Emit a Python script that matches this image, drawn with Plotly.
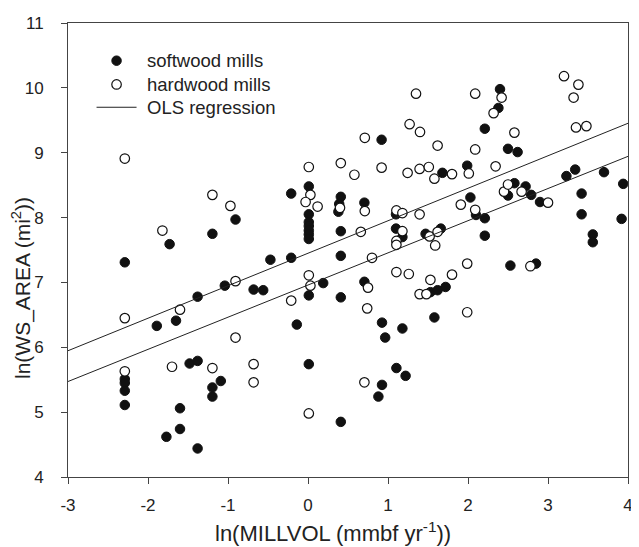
import plotly.graph_objects as go

# softwood mills (filled)
soft_x = [-2.29, -2.29, -2.29, -2.29, -2.29, -1.89, -1.77, -1.73, -1.65, -1.60, -1.60,
          -1.48, -1.38, -1.38, -1.38, -1.195, -1.195, -1.195, -1.09, -1.04, -0.906,
          -0.68, -0.56, -0.47, -0.21, -0.21, -0.14,
          0.01, 0.01, 0.01, 0.01, 0.01, 0.01, 0.01, 0.01, 0.01, 0.19,
          0.41, 0.39, 0.38, 0.41, 0.41, 0.41, 0.41,
          0.705, 0.705, 0.88, 0.925, 0.92, 0.925, 0.965,
          1.10, 1.10, 1.18, 1.105, 1.22, 1.18, 1.47, 1.53, 1.62, 1.72, 1.58, 1.66,
          1.68, 1.99, 2.03, 2.10, 2.21, 2.21, 2.21, 2.38, 2.40, 2.50, 2.62, 2.50, 2.58,
          2.53, 2.72, 2.79, 2.85, 2.90, 3.23, 3.34, 3.42, 3.42, 3.56, 3.56, 3.70, 3.94, 3.92]
soft_y = [7.31, 5.51, 5.45, 5.33, 5.11, 6.33, 4.62, 7.59, 6.41, 5.06, 4.74,
          5.75, 5.79, 6.78, 4.44, 7.75, 5.38, 5.24, 5.48, 6.95, 7.97,
          6.89, 6.88, 7.35, 8.37, 7.38, 6.35,
          8.48, 8.05, 7.93, 7.87, 7.80, 7.74, 7.67, 6.80, 5.74, 6.99,
          8.32, 8.21, 8.09, 7.79, 7.41, 6.77, 4.85,
          8.23, 7.01, 5.24, 5.42, 9.20, 6.38, 6.15,
          8.05, 7.83, 7.70, 5.68, 5.56, 6.29, 7.75, 6.85, 6.88, 6.93, 6.46, 7.83,
          8.69, 8.80, 8.31, 8.04, 7.99, 7.72, 9.37, 9.69, 9.98, 9.06, 9.01, 8.34, 8.53,
          7.26, 8.48, 8.35, 7.29, 8.24, 8.64, 8.74, 8.37, 8.05, 7.74, 7.62, 8.70, 8.52, 7.98]

# hardwood mills (hollow)
hard_x = [-2.29, -2.29, -2.29, -1.82, -1.70, -1.60, -1.195, -1.195, -0.97, -0.906, -0.906,
          -0.68, -0.68, -0.21,
          0.01, 0.03, -0.03, 0.12, 0.01, 0.03, 0.01,
          0.41, 0.40, 0.58, 0.66, 0.71, 0.71, 0.705, 0.75, 0.74, 0.80, 0.92,
          1.105, 1.18, 1.18, 1.105, 1.105, 1.105, 1.26, 1.245, 1.27, 1.35, 1.40,
          1.395, 1.51, 1.58, 1.395, 1.395, 1.48, 1.52, 1.53, 1.59, 1.62, 1.62,
          1.80, 1.80, 1.91, 1.99, 1.99, 2.01, 2.09, 2.09, 2.09, 2.32, 2.42, 2.345,
          2.45, 2.50, 2.58, 2.67, 2.78, 3.00, 3.20, 3.38, 3.32, 3.35, 3.48]
hard_y = [8.91, 6.45, 5.63, 7.80, 5.70, 6.58, 8.35, 5.68, 8.18, 7.02, 6.15,
          5.74, 5.46, 6.72,
          8.78, 8.35, 8.24, 8.17, 7.11, 6.95, 4.98,
          8.84, 8.15, 8.66, 7.78, 9.23, 8.10, 5.46, 6.92, 6.60, 7.38, 8.77,
          8.11, 8.07, 7.79, 7.64, 7.58, 7.16, 7.13, 8.69, 9.44, 9.91, 9.32,
          8.75, 8.78, 8.60, 8.05, 6.82, 6.82, 7.71, 7.04, 7.57, 7.78, 9.11,
          8.67, 7.12, 8.20, 7.29, 6.54, 8.68, 9.91, 9.05, 8.12, 9.61, 9.85, 8.79,
          8.40, 8.51, 9.31, 8.40, 7.25, 8.23, 10.18, 10.05, 9.85, 9.39, 9.41]

# OLS regression lines (intercept, slope) and x extent
ols_x = [-3, 4]
ols_upper = (7.45, 0.501)
ols_lower = (6.96, 0.496)

x_ticks = [-3, -2, -1, 0, 1, 2, 3, 4]
x_tick_labels = ["-3", "-2", "-1", "0", "1", "2", "3", "4"]
y_ticks = [4, 5, 6, 7, 8, 9, 10, 11]
y_tick_labels = ["4", "5", "6", "7", "8", "9", "10", "11"]

legend_labels = ["softwood mills", "hardwood mills", "OLS regression"]

FONT = "Liberation Sans, Arial, sans-serif"
INK = "#222222"
MS = 9.5

fig = go.Figure()
fig.add_trace(go.Scatter(
    x=soft_x, y=soft_y, mode="markers", name=legend_labels[0],
    marker=dict(size=MS, color="#111111", line=dict(color="#111111", width=1))))
fig.add_trace(go.Scatter(
    x=hard_x, y=hard_y, mode="markers", name=legend_labels[1],
    marker=dict(size=MS, color="white", line=dict(color="#111111", width=1.2))))
for i, (b0, b1) in enumerate([ols_upper, ols_lower]):
    fig.add_trace(go.Scatter(
        x=ols_x, y=[b0 + b1 * v for v in ols_x], mode="lines",
        name=legend_labels[2], line=dict(color=INK, width=1)))

axis_common = dict(showgrid=False, zeroline=False, showline=True, mirror=True,
                   linecolor="#444444", linewidth=1, ticks="outside", ticklen=6,
                   tickcolor="#444444", tickfont=dict(size=17, color=INK),
                   ticklabeloverflow="allow")

# hand-placed legend (paper coordinates of the plot area)
leg_sym_x = 0.0867
leg_text_x = 0.1376
leg_rows = [0.917, 0.8646, 0.8144]
shapes = []
r = MS / 2
shapes.append(dict(type="circle", xref="paper", yref="paper", xsizemode="pixel",
                   ysizemode="pixel", xanchor=leg_sym_x, yanchor=leg_rows[0],
                   x0=-r, x1=r, y0=-r, y1=r, fillcolor="#111111",
                   line=dict(color="#111111", width=1)))
shapes.append(dict(type="circle", xref="paper", yref="paper", xsizemode="pixel",
                   ysizemode="pixel", xanchor=leg_sym_x, yanchor=leg_rows[1],
                   x0=-r, x1=r, y0=-r, y1=r, fillcolor="white",
                   line=dict(color="#111111", width=1.2)))
shapes.append(dict(type="line", xref="paper", yref="paper", xsizemode="pixel",
                   ysizemode="pixel", xanchor=leg_sym_x, yanchor=leg_rows[2],
                   x0=-20, x1=20, y0=0, y1=0, line=dict(color=INK, width=1)))

annotations = [dict(text=t, xref="paper", yref="paper", x=leg_text_x, y=yy,
                    xanchor="left", yanchor="middle", showarrow=False,
                    font=dict(size=18.5, color=INK))
               for t, yy in zip(legend_labels, leg_rows)]
annotations += [
    dict(text="ln(MILLVOL (mmbf yr<sup>-1</sup>))", xref="paper", yref="paper",
         x=0.474, y=0, yshift=-55, xanchor="center", yanchor="middle",
         showarrow=False, font=dict(size=22, color=INK)),
    dict(text="ln(WS_AREA (mi<sup>2</sup>))", xref="paper", yref="paper",
         x=0, y=0.5, xshift=-47, yshift=-38, textangle=-90, xanchor="center",
         yanchor="middle", showarrow=False, font=dict(size=21, color=INK)),
]

# The page body has an 8px default margin, so the figure is 8px smaller
# and margins are reduced to keep the plot area at the reference position.
fig.update_layout(
    width=631, height=539,
    margin=dict(l=60, r=6, t=11, b=70),
    paper_bgcolor="white", plot_bgcolor="white",
    font=dict(family=FONT, size=17, color=INK),
    showlegend=False,
    xaxis=dict(range=[-3, 4], tickvals=x_ticks, ticktext=x_tick_labels,
               ticklabelstandoff=7, **axis_common),
    yaxis=dict(range=[4, 11], tickvals=y_ticks, ticktext=y_tick_labels,
               ticklabelstandoff=14, **axis_common),
    shapes=shapes,
    annotations=annotations,
)

fig.write_html("out.html")
